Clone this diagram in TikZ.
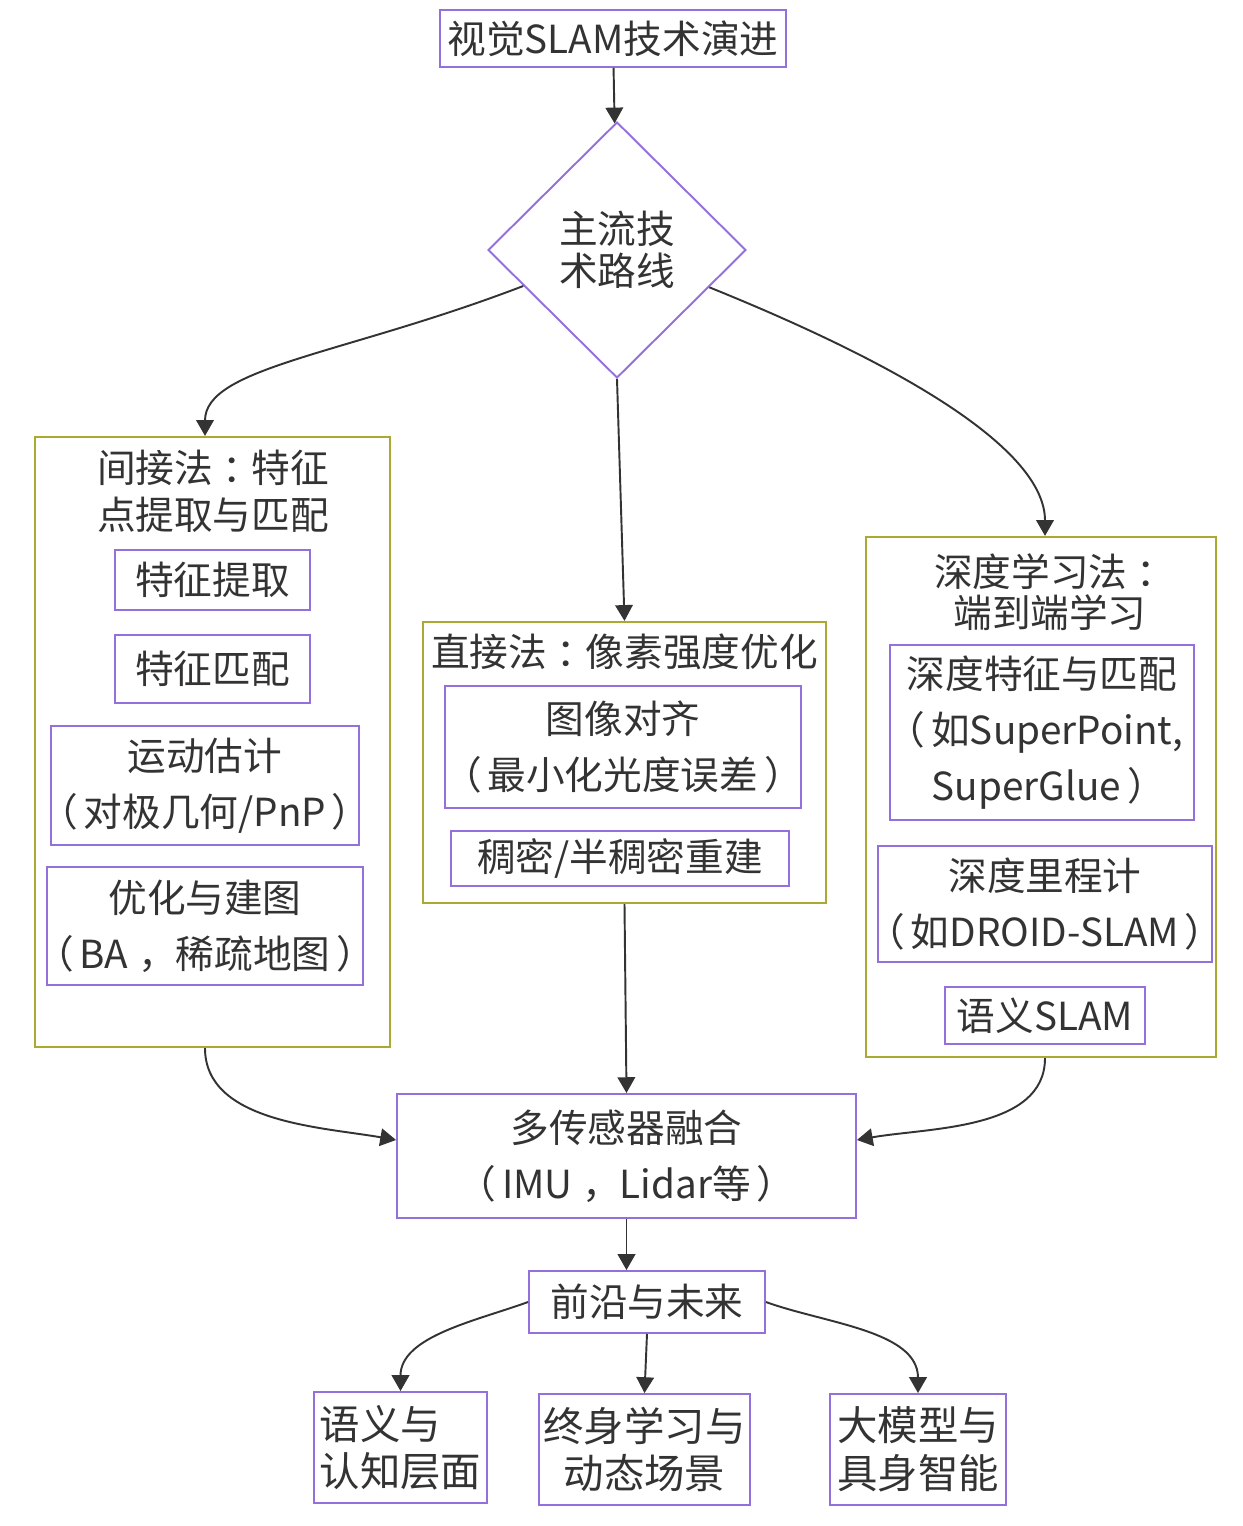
\documentclass[tikz,border=0pt]{standalone}
\usepackage{fontspec}
\setmainfont{Noto Sans CJK SC}
\usetikzlibrary{shapes.geometric, arrows.meta}
\definecolor{nodeline}{HTML}{9370DB}
\definecolor{groupline}{HTML}{AAAA33}
\definecolor{ink}{HTML}{333333}
% centred full-width punctuation
\newcommand{\zlp}{\hbox to 0.8em{\hss\kern-0.5em（\hss}}
\newcommand{\zrp}{\hbox to 0.8em{\hss）\kern-0.5em\hss}}
\newcommand{\zcol}{\hbox to 1em{\hss：\kern-0.5em\hss}}
\newcommand{\zcom}{\hbox to 1em{\hss，\kern-0.5em\hss}}

\begin{document}
\begin{tikzpicture}[x=0.02cm, y=-0.02cm]
  \tikzstyle{proc}=[draw=nodeline, fill=white, line width=1.1pt, text=ink, align=center, inner sep=1pt, font=\fontsize{22}{32}\selectfont]
  \tikzstyle{group}=[draw=groupline, fill=white, line width=1.3pt, inner sep=0pt]
  \tikzstyle{grouptitle}=[text=ink, align=center, inner sep=0pt, font=\fontsize{22}{27}\selectfont]
  \tikzstyle{flow}=[draw=ink, line width=1.1pt, -{Triangle[width=10pt, length=9pt]}]
  \tikzstyle{leaf}=[proc, minimum height=2.22cm, font=\fontsize{23}{27}\selectfont]
  \useasboundingbox (0,0) rectangle (1242,1526);

  % top of the chart
  \node (title) at (613,38.5) [proc, minimum width=6.92cm, minimum height=1.14cm] {视觉SLAM技术演进};
  \node (route) at (617,250) [proc, diamond, shape aspect=1, minimum width=5.16cm, minimum height=5.12cm,
    font=\fontsize{22}{24}\selectfont] {主流技\\术路线};

  % indirect method group
  \node (indirect) at (212.5,742) [group, minimum width=7.1cm, minimum height=12.2cm] {};
  \node (indirecttitle) at (213,491) [grouptitle] {间接法\zcol 特征\\点提取与匹配};
  \node (featext) at (212.5,580) [proc, minimum width=3.9cm, minimum height=1.2cm] {特征提取};
  \node (featmatch) at (212.5,669) [proc, minimum width=3.9cm, minimum height=1.36cm] {特征匹配};
  \node (motion) at (205,785.5) [proc, minimum width=6.12cm, minimum height=2.38cm] {运动估计\\\zlp 对极几何/PnP\zrp};
  \node (mapping) at (205,926) [proc, minimum width=6.32cm, minimum height=2.36cm] {优化与建图\\\zlp BA\zcom\ 稀疏地图\zrp};

  % direct method group
  \node (direct) at (624.5,762.5) [group, minimum width=8.06cm, minimum height=5.62cm] {};
  \node (directtitle) at (624.5,652) [grouptitle] {直接法\zcol 像素强度优化};
  \node (imgalign) at (623,747) [proc, minimum width=7.12cm, minimum height=2.44cm] {图像对齐\\\zlp 最小化光度误差\zrp};
  \node (dense) at (620,858.5) [proc, minimum width=6.76cm, minimum height=1.1cm] {稠密/半稠密重建};

  % deep learning group
  \node (deep) at (1041,797) [group, minimum width=7.0cm, minimum height=10.4cm] {};
  \node (deeptitle) at (1050,592) [grouptitle, font=\fontsize{22}{23}\selectfont] {深度学习法\zcol\\端到端学习};
  \node (deepfeat) at (1042,732.5) [proc, minimum width=6.08cm, minimum height=3.5cm] {深度特征与匹配\\\zlp 如SuperPoint,\\SuperGlue\zrp};
  \node (deepodo) at (1045,904) [proc, minimum width=6.32cm, minimum height=2.32cm] {深度里程计\\\zlp 如DROID-SLAM\zrp};
  \node (semslam) at (1045,1015.5) [proc, minimum width=4.0cm, minimum height=1.14cm] {语义SLAM};

  % fusion and outlook
  \node (fusion) at (626.5,1156) [proc, minimum width=9.18cm, minimum height=2.48cm] {多传感器融合\\\zlp IMU\zcom\ Lidar等\zrp};
  \node (future) at (647,1302) [proc, minimum width=4.72cm, minimum height=1.24cm] {前沿与未来};
  \node (cognition) at (400.5,1447.5) [leaf, minimum width=3.46cm, align=left] {语义与\\认知层面};
  \node (lifelong) at (644.5,1449.5) [leaf, minimum width=4.22cm] {终身学习与\\动态场景};
  \node (embodied) at (918,1449.5) [leaf, minimum width=3.52cm] {大模型与\\具身智能};

  % connections
  \draw[flow] (title) -- (route);
  \draw[flow] (route) to[out=201, in=90, out looseness=1.4, in looseness=0.5] (motion |- indirect.north);
  \draw[flow] (route.south) -- (direct.north);
  \draw[flow] (route) to[out=-22, in=90, out looseness=1.4, in looseness=0.5] (deepodo |- deep.north);
  \draw[flow] (motion |- indirect.south) to[out=-90, in=170, looseness=0.9] ([yshift=0.32cm]fusion.west);
  \draw[flow] (direct.south) -- (fusion.north);
  \draw[flow] (deepodo |- deep.south) to[out=-90, in=10, looseness=0.9] ([yshift=0.32cm]fusion.east);
  \draw[flow] (fusion.south) -- (fusion.south |- future.north);
  \draw[flow] (future.west) to[out=200, in=90, looseness=0.9] (cognition.north);
  \draw[flow] (future.south) -- (lifelong.north);
  \draw[flow] (future.east) to[out=-20, in=90, looseness=0.9] (embodied.north);
\end{tikzpicture}
\end{document}
